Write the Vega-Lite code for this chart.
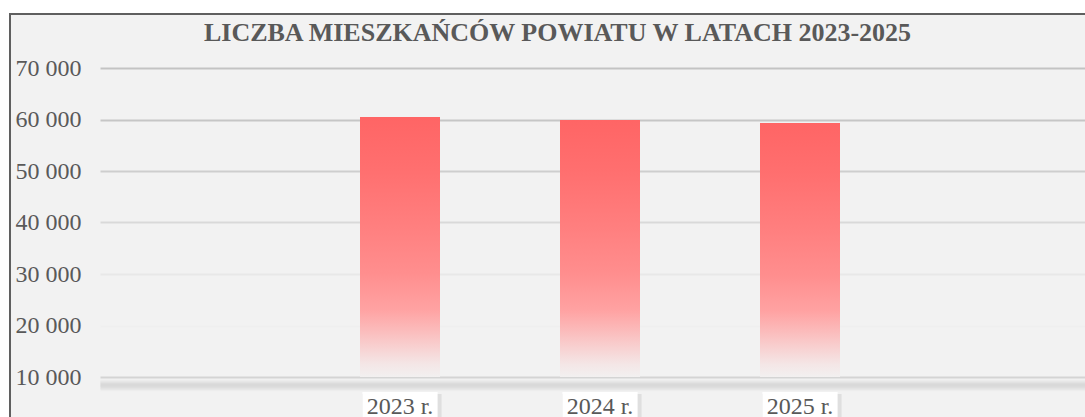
{
  "$schema": "https://vega.github.io/schema/vega-lite/v6.json",
  "width": 1085,
  "height": 420,
  "autosize": {"type": "none"},
  "padding": {"left": 10, "top": 14, "right": -10, "bottom": -17},
  "background": "#ffffff",
  "config": {
    "view": {"fill": "#F2F2F2", "stroke": "#5f5f5f", "strokeWidth": 2},
    "font": "Liberation Serif"
  },
  "title": {
    "text": "LICZBA MIESZKAŃCÓW POWIATU W LATACH 2023-2025",
    "font": "Liberation Serif",
    "fontSize": 26,
    "fontWeight": "bold",
    "color": "#595959",
    "anchor": "middle",
    "frame": "group",
    "baseline": "alphabetic",
    "offset": -53,
    "dx": 5
  },
  "data": {
    "values": [
      {"rok": "2023 r.", "liczba": 60490},
      {"rok": "2024 r.", "liczba": 59900},
      {"rok": "2025 r.", "liczba": 59320}
    ]
  },
  "encoding": {
    "x": {
      "field": "rok",
      "type": "nominal",
      "sort": null,
      "scale": {
        "domain": ["_a", "2023 r.", "2024 r.", "2025 r.", "_b"],
        "range": [90, 1090],
        "paddingInner": 0.6,
        "paddingOuter": 0.3
      },
      "axis": {
        "title": null,
        "domain": false,
        "ticks": false,
        "grid": false,
        "labelAngle": 0,
        "labelExpr": "slice(datum.label, 0, 1) == '_' ? '' : datum.label",
        "labelFont": "Liberation Serif",
        "labelFontSize": 24,
        "labelColor": "#595959",
        "labelBaseline": "alphabetic",
        "labelPadding": 36,
        "offset": -57,
        "zindex": 1
      }
    }
  },
  "layer": [
    {
      "mark": {
        "type": "bar",
        "color": {
          "gradient": "linear",
          "x1": 0, "y1": 0, "x2": 0, "y2": 1,
          "stops": [
            {"offset": 0, "color": "#FF6565"},
            {"offset": 0.2, "color": "#FF6F6F"},
            {"offset": 0.42, "color": "#FF7F7F"},
            {"offset": 0.6, "color": "#FF8E8E"},
            {"offset": 0.74, "color": "#FFA2A2"},
            {"offset": 0.82, "color": "#FBBBBB"},
            {"offset": 0.88, "color": "#F8CFCF"},
            {"offset": 0.95, "color": "#F4E6E6"},
            {"offset": 1, "color": "#F2F0F0"}
          ]
        }
      },
      "encoding": {
        "y": {
          "field": "liczba",
          "type": "quantitative",
          "scale": {"domain": [7000, 70000], "range": [378.45, 54], "zero": false, "nice": false},
          "axis": {
            "title": null,
            "domain": false,
            "ticks": false,
            "grid": true,
            "tickCount": 60,
            "values": [70000, 60000, 50000, 40000, 30000, 20000, 10000, 9500, 9200, 9000, 8800, 8600, 8400, 8200, 8000, 7800, 7600, 7400],
            "labelExpr": "datum.value % 10000 == 0 ? format(datum.value / 1000, 'd') + ' 000' : ''",
            "labelAlign": "left",
            "labelPadding": -5,
            "labelFont": "Liberation Serif",
            "labelFontSize": 24,
            "labelColor": "#595959",
            "labelOverlap": false,
            "labelBound": false,
            "labelFlush": false,
            "gridWidth": {"condition": {"test": "datum.value % 10000 == 0", "value": 2}, "value": 1.4},
            "gridColor": {
              "condition": [
                {"test": "datum.value == 70000", "value": "#c3c3c3"},
                {"test": "datum.value == 60000", "value": "#c6c6c6"},
                {"test": "datum.value == 50000", "value": "#cecece"},
                {"test": "datum.value == 40000", "value": "#d9d9d9"},
                {"test": "datum.value == 30000", "value": "#e8e8e8"},
                {"test": "datum.value == 20000", "value": "#efefef"},
                {"test": "datum.value == 10000", "value": "#d4d4d4"},
                {"test": "datum.value == 9500", "value": "#ececec"},
                {"test": "datum.value == 9200", "value": "#e6e6e6"},
                {"test": "datum.value == 9000", "value": "#e0e0e0"},
                {"test": "datum.value == 8800", "value": "#dbdbdb"},
                {"test": "datum.value == 8600 || datum.value == 8400", "value": "#d9d9d9"},
                {"test": "datum.value == 8200", "value": "#dbdbdb"},
                {"test": "datum.value == 8000", "value": "#dfdfdf"},
                {"test": "datum.value == 7800", "value": "#e4e4e4"},
                {"test": "datum.value == 7600", "value": "#e9e9e9"}
              ],
              "value": "#eeeeee"
            }
          }
        },
        "y2": {"datum": 10000}
      }
    },
    {
      "mark": {"type": "bar", "color": "#000000", "opacity": 0.08, "xOffset": 2, "yOffset": 2, "width": {"band": 0.99}},
      "encoding": {
        "y": {"datum": 7090, "type": "quantitative"},
        "y2": {"datum": 1600}
      }
    },
    {
      "mark": {"type": "bar", "color": "#ffffff", "width": {"band": 0.94}},
      "encoding": {
        "y": {"datum": 7090, "type": "quantitative"},
        "y2": {"datum": 1600}
      }
    }
  ]
}
